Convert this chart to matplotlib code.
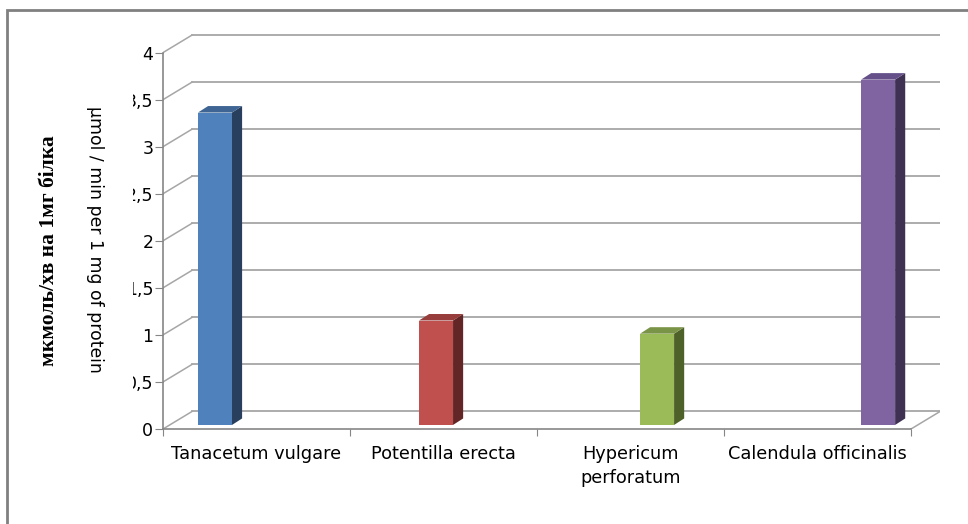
import matplotlib
matplotlib.use("Agg")
import matplotlib.pyplot as plt
from matplotlib.patches import Polygon, Rectangle
from matplotlib.transforms import Bbox, TransformedBbox

# activity per plant extract
species = ["Tanacetum vulgare", "Potentilla erecta", "Hypericum\nperforatum", "Calendula officinalis"]
activity = [3.32, 1.11, 0.97, 3.67]
front_colors = ["#4F81BD", "#C0504D", "#9BBB59", "#8064A2"]
side_colors = ["#283F5E", "#622626", "#4E6129", "#3F3152"]
top_colors = ["#3E6593", "#973D3B", "#7A9447", "#65508A"]
yticks = [0, 0.5, 1, 1.5, 2, 2.5, 3, 3.5, 4]
ytick_labels = ["0", "0,5", "1", "1,5", "2", "2,5", "3", "3,5", "4"]

# fake-3D geometry (data units)
DX, DY = 0.155, 0.186          # depth of the back wall
BAR_W = 0.182
SDX, SDY = 0.054, 0.069        # bar side/top depth
BAR_BASE = 0.043
BAR_SPREAD, BAR_SHIFT = 1.182, -0.222
GRID = "#A6A6A6"
AXC = "#868686"

fig = plt.figure(figsize=(9.68, 5.24), dpi=100)
ax = fig.add_axes([163/968, 1-429/524, 777/968, 396/524])
ax.set_xlim(-0.5, 3.5 + DX)
ax.set_ylim(0, 396/94.1)

# back wall gridlines and the diagonals to the front axis
x0 = -0.5
for v in yticks:
    ax.plot([x0 + DX, 3.5 + DX], [v + DY, v + DY], color=GRID, lw=1.3, zorder=1)
    ax.plot([x0, x0 + DX], [v, v + DY], color=GRID, lw=1.1, zorder=1)
ax.plot([3.5, 3.5 + DX], [0, DY], color=GRID, lw=1.1, zorder=1)

# bars: front face via bar(), side and top faces as polygons
xs = [BAR_SHIFT + BAR_SPREAD*i for i in range(len(activity))]
ax.bar(xs, activity, width=BAR_W, bottom=BAR_BASE, color=front_colors, zorder=3)
for x, v, sc, tc in zip(xs, activity, side_colors, top_colors):
    r = x + BAR_W/2
    l = x - BAR_W/2
    top = BAR_BASE + v
    ax.add_patch(Polygon([(r, BAR_BASE), (r + SDX, BAR_BASE + SDY), (r + SDX, top + SDY), (r, top)],
                         closed=True, facecolor=sc, edgecolor="none", zorder=3))
    ax.add_patch(Polygon([(l, top), (r, top), (r + SDX, top + SDY), (l + SDX, top + SDY)],
                         closed=True, facecolor=tc, edgecolor="none", zorder=3))

# axes
for s in ["top", "right"]:
    ax.spines[s].set_visible(False)
ax.spines["left"].set_bounds(0, 4)
ax.spines["bottom"].set_bounds(-0.5, 3.5)
for s in ["left", "bottom"]:
    ax.spines[s].set_color(AXC)
    ax.spines[s].set_linewidth(1.2)
ax.set_yticks(yticks)
ax.set_yticklabels(ytick_labels)
ax.tick_params(axis="y", length=5.5, color=AXC, labelsize=12.5, pad=1.5)
ax.set_xticks([-0.5, 0.5, 1.5, 2.5, 3.5])
ax.set_xticklabels([])
ax.set_xticks([0, 1, 2, 3], minor=True)
ax.set_xticklabels(species, minor=True, fontsize=12.8, linespacing=1.4)
ax.tick_params(axis="x", which="major", length=5, color=AXC)
ax.tick_params(axis="x", which="minor", length=0, pad=11.5)
for lab in ax.get_xticklabels(minor=True):
    lab.set_verticalalignment("top")

# the chart area cuts the tick labels on the left
clip = TransformedBbox(Bbox([[133/968, 0], [1, 1]]), fig.transFigure)
for lab in ax.get_yticklabels():
    lab.set_clip_box(clip)
    lab.set_clip_on(True)

fig.text(49/968, 1-251/524, "мкмоль/хв на 1мг білка", rotation=90, ha="center", va="center",
         family="Liberation Serif", weight="bold", fontsize=15.5)
fig.text(95/968, 1-239/524, "μmol / min per 1 mg of protein", rotation=270, ha="center", va="center",
         fontsize=12.4)

# chart frame
fig.add_artist(Rectangle((7/968, -0.2), 1.2, 1.2 - 10/524, transform=fig.transFigure,
                         fill=False, edgecolor="#808080", lw=2))

fig.savefig("out.png", dpi=100)
